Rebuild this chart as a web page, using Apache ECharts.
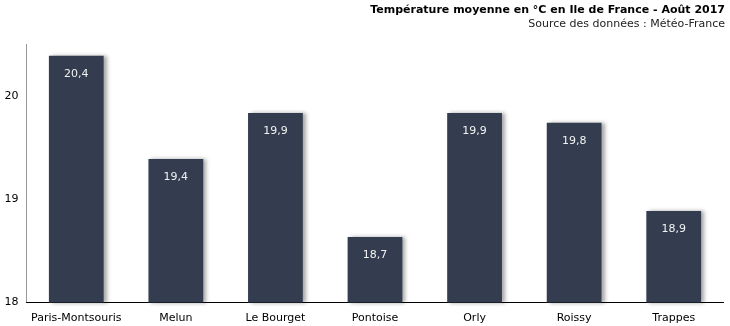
<!DOCTYPE html>
<html>
<head>
<meta charset="utf-8">
<script src="https://cdn.jsdelivr.net/npm/echarts@6/dist/echarts.min.js"></script>
<style>html,body{margin:0;padding:0;background:#fff}#c{width:730px;height:326px}</style>
</head>
<body>
<div id="c"></div>
<script>
const categories = ['Paris-Montsouris', 'Melun', 'Le Bourget', 'Pontoise', 'Orly', 'Roissy', 'Trappes'];
const temperatures = [20.39, 19.39, 19.835, 18.634, 19.835, 19.74, 18.886];
const valueLabels = ['20,4', '19,4', '19,9', '18,7', '19,9', '19,8', '18,9'];
const yTicks = [18, 19, 20];
const titleText = 'Température moyenne en °C en Ile de France - Août 2017';
const subtitleText = 'Source des données : Météo-France';

const FONT = '"DejaVu Sans", Verdana, sans-serif';
const chart = echarts.init(document.getElementById('c'), null, {renderer: 'canvas'});
chart.setOption({
  animation: false,
  backgroundColor: '#ffffff',
  title: [{
    text: titleText,
    right: 5,
    top: 3,
    padding: 0,
    textStyle: {fontFamily: FONT, fontSize: 11, fontWeight: 'bold', color: '#000', lineHeight: 14}
  }, {
    text: subtitleText,
    right: 5,
    top: 17,
    padding: 0,
    textStyle: {fontFamily: FONT, fontSize: 11, fontWeight: 'normal', color: '#222', lineHeight: 14}
  }],
  grid: {left: 26.5, right: 6.5, top: 44.4, bottom: 23.5, containLabel: false},
  xAxis: {
    type: 'category',
    data: categories,
    axisLine: {show: true, lineStyle: {color: '#000', width: 1}},
    axisTick: {show: false},
    axisLabel: {fontFamily: FONT, fontSize: 11, color: '#000', margin: 10, interval: 0}
  },
  yAxis: {
    type: 'value',
    min: 18,
    max: 20.5,
    interval: 1,
    axisLine: {show: true, lineStyle: {color: '#999', width: 1}},
    axisTick: {show: false},
    splitLine: {show: false},
    axisLabel: {
      fontFamily: FONT, fontSize: 11, color: '#000', margin: 8,
      showMaxLabel: false,
      formatter: v => (yTicks.indexOf(v) >= 0 ? String(v) : '')
    }
  },
  series: [{
    type: 'bar',
    data: temperatures,
    barWidth: '55%',
    itemStyle: {
      color: '#333d4f',
      shadowColor: 'rgba(0,0,0,0.35)',
      shadowBlur: 4,
      shadowOffsetX: 3,
      shadowOffsetY: 0
    },
    label: {
      show: true,
      position: 'insideTop',
      distance: 13,
      fontFamily: FONT,
      fontSize: 11,
      color: '#f2f2f2',
      formatter: p => valueLabels[p.dataIndex]
    }
  }]
});
</script>
</body>
</html>
